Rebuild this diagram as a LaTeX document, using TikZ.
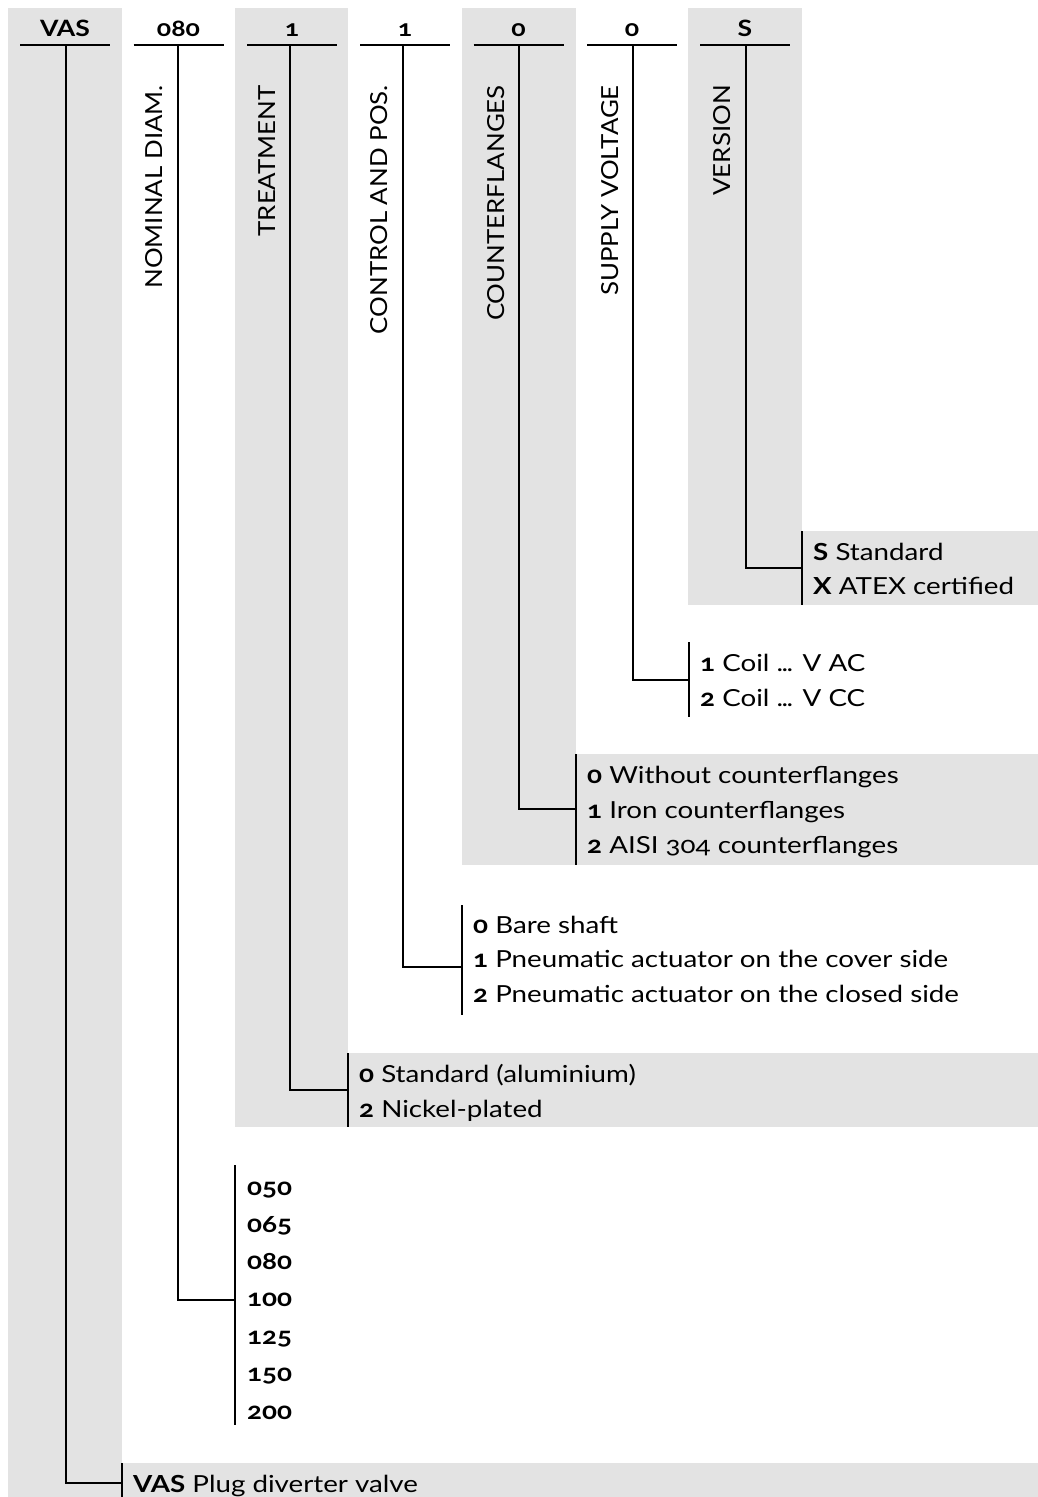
\documentclass[tikz,border=0pt]{standalone}
\usepackage{fontspec}
\setmainfont{Lato}[Numbers=OldStyle,FakeStretch=1.18]
\newfontfamily\labelfont{Lato}[Numbers=OldStyle,FakeStretch=1.1]
\newcommand{\tightdots}{.\kern-1.5pt.\kern-1.5pt.}
\definecolor{bandgrey}{RGB}{227,227,227}
\tikzset{
  x=1pt,y=-1pt,
  band/.style={fill=bandgrey,draw=none},
  rule/.style={line width=2pt,draw=black},
  head/.style={font=\fontsize{22.5}{26}\selectfont\bfseries,anchor=base},
  vlabel/.style={font=\labelfont\fontsize{23.5}{27}\selectfont,rotate=90,anchor=east,inner sep=0pt},
  opt/.style={font=\fontsize{23.5}{28}\selectfont,anchor=base west,inner sep=0pt},
}
\begin{document}
\begin{tikzpicture}
\useasboundingbox (0,0) rectangle (1038,1497);
% grey bands
\fill[band] (8,8) rectangle (122,1497);
\fill[band] (122,1463) rectangle (1038,1497);
\fill[band] (235,8) rectangle (348,1127);
\fill[band] (348,1053) rectangle (1038,1127);
\fill[band] (462,8) rectangle (576,865);
\fill[band] (576,754) rectangle (1038,865);
\fill[band] (688,8) rectangle (802,605);
\fill[band] (802,531) rectangle (1038,605);

% headers
\node[head] (hA) at (65,36) {VAS};
\node[head] (hB) at (178.5,36) {080};
\node[head] (hC) at (292,36) {1};
\node[head] (hD) at (405,36) {1};
\node[head] (hE) at (518.5,36) {0};
\node[head] (hF) at (632,36) {0};
\node[head] (hG) at (745,36) {S};
\foreach \c in {65,178.5,292,405,518.5,632,745}
  \draw[rule] (\c-45,45) -- (\c+45,45);

% top coordinates of vertical stems
\coordinate (tA) at (66,45);
\coordinate (tB) at (178,45);
\coordinate (tC) at (290,45);
\coordinate (tD) at (403,45);
\coordinate (tE) at (519,45);
\coordinate (tF) at (633,45);
\coordinate (tG) at (746,45);

% vertical labels
\node[vlabel] (lB) at (154,85) {NOMINAL DIAM.};
\node[vlabel] (lC) at (267,85) {TREATMENT};
\node[vlabel] (lD) at (379,85) {CONTROL AND POS.};
\node[vlabel] (lE) at (496,85) {COUNTERFLANGES};
\node[vlabel] (lF) at (610,85) {SUPPLY VOLTAGE};
\node[vlabel] (lG) at (722,85) {VERSION};

% bars and elbow targets
\draw[rule] (802,531) -- (802,605);
\coordinate (bG) at (802,568);
\draw[rule] (689,642) -- (689,717);
\coordinate (bF) at (689,680);
\draw[rule] (576,754) -- (576,865);
\coordinate (bE) at (576,809);
\draw[rule] (462,905) -- (462,1015);
\coordinate (bD) at (462,967);
\draw[rule] (348,1053) -- (348,1127);
\coordinate (bC) at (348,1090);
\draw[rule] (235,1165) -- (235,1425);
\coordinate (bB) at (235,1300);
\draw[rule] (122,1463) -- (122,1497);
\coordinate (bA) at (122,1483);

\draw[rule] (tG) |- (bG);
\draw[rule] (tF) |- (bF);
\draw[rule] (tE) |- (bE);
\draw[rule] (tD) |- (bD);
\draw[rule] (tC) |- (bC);
\draw[rule] (tB) |- (bB);
\draw[rule] (tA) |- (bA);

% options
\node[opt] (oG1) at (813,560) {\textbf{S} Standard};
\node[opt] (oG2) at (813,594) {\textbf{X} ATEX certified};
\node[opt] (oF1) at (700,671) {\textbf{1} Coil \tightdots{} V AC};
\node[opt] (oF2) at (700,706) {\textbf{2} Coil \tightdots{} V CC};
\node[opt] (oE1) at (587,783) {\textbf{0} Without counterflanges};
\node[opt] (oE2) at (587,818) {\textbf{1} Iron counterflanges};
\node[opt] (oE3) at (587,853) {\textbf{2} AISI 304 counterflanges};
\node[opt] (oD1) at (473,933) {\textbf{0} Bare shaft};
\node[opt] (oD2) at (473,967) {\textbf{1} Pneumatic actuator on the cover side};
\node[opt] (oD3) at (473,1002) {\textbf{2} Pneumatic actuator on the closed side};
\node[opt] (oC1) at (359,1082) {\textbf{0} Standard (aluminium)};
\node[opt] (oC2) at (359,1117) {\textbf{2} Nickel-plated};
\node[opt] (oB1) at (247,1195) {\textbf{050}};
\node[opt] (oB2) at (247,1232) {\textbf{065}};
\node[opt] (oB3) at (247,1269) {\textbf{080}};
\node[opt] (oB4) at (247,1306) {\textbf{100}};
\node[opt] (oB5) at (247,1344) {\textbf{125}};
\node[opt] (oB6) at (247,1381) {\textbf{150}};
\node[opt] (oB7) at (247,1419) {\textbf{200}};
\node[opt] (oA1) at (133,1492) {\textbf{VAS} Plug diverter valve};
\end{tikzpicture}
\end{document}
